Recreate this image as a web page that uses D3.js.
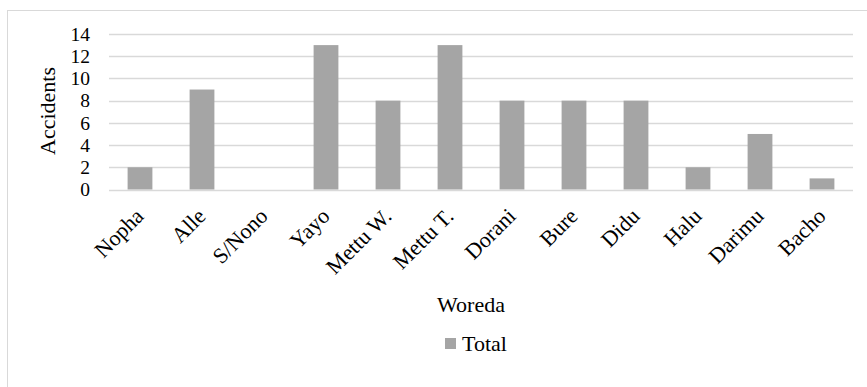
<!DOCTYPE html>
<html>
<head>
<meta charset="utf-8">
<script src="https://cdn.jsdelivr.net/npm/d3@7"></script>
<style>
  html, body { margin: 0; padding: 0; background: #fff; }
  svg { display: block; }
  text { font-family: "Times New Roman", "Liberation Serif", serif; fill: #000; }
</style>
</head>
<body>
<svg id="chart" width="867" height="387"></svg>
<script>
// Accidents per woreda
const woredas = ["Nopha", "Alle", "S/Nono", "Yayo", "Mettu W.", "Mettu T.", "Dorani", "Bure", "Didu", "Halu", "Darimu", "Bacho"];
const totals = [2, 9, 0, 13, 8, 13, 8, 8, 8, 2, 5, 1];
const yTicks = [0, 2, 4, 6, 8, 10, 12, 14];
const seriesName = "Total";

const plot = { left: 109, right: 853, top: 34, bottom: 189.5 };
const barColor = "#a5a5a5";
const gridColor = "#d9d9d9";
const fontSize = 22;
const tickFontSize = 19.5;
const serif = '"Times New Roman", "Liberation Serif", serif';

const svg = d3.select("#chart");

// chart area outline
svg.append("rect")
  .attr("x", 7.5).attr("y", 10.5)
  .attr("width", 900).attr("height", 400)
  .attr("fill", "none").attr("stroke", gridColor).attr("stroke-width", 1);

const x = d3.scaleBand()
  .domain(woredas)
  .range([plot.left, plot.right])
  .paddingInner(0.6)
  .paddingOuter(0.3);

const y = d3.scaleLinear()
  .domain([0, 14])
  .range([plot.bottom, plot.top]);

// horizontal gridlines
svg.append("g")
  .selectAll("line")
  .data(yTicks)
  .join("line")
  .attr("x1", plot.left).attr("x2", plot.right)
  .attr("y1", d => Math.round(y(d)) + 0.5).attr("y2", d => Math.round(y(d)) + 0.5)
  .attr("stroke", gridColor).attr("stroke-width", 1.3);

// y axis labels
const yAxis = d3.axisLeft(y).tickValues(yTicks).tickSize(0).tickPadding(0);
const gy = svg.append("g")
  .attr("transform", `translate(${plot.left - 19},0)`)
  .call(yAxis)
  .attr("font-family", serif)
  .attr("font-size", tickFontSize);
gy.select(".domain").remove();
gy.selectAll("text").attr("fill", "#000");

// bars
svg.append("g")
  .selectAll("rect")
  .data(woredas.map((w, i) => ({ w, v: totals[i] })))
  .join("rect")
  .attr("x", d => x(d.w))
  .attr("y", d => y(d.v))
  .attr("width", x.bandwidth())
  .attr("height", d => y(0) - y(d.v))
  .attr("fill", barColor);

// category labels along the bottom, rotated
const xAxis = d3.axisBottom(x).tickSize(0).tickPadding(0);
const gx = svg.append("g")
  .attr("transform", `translate(0,${plot.bottom})`)
  .call(xAxis)
  .attr("font-family", serif)
  .attr("font-size", fontSize);
gx.select(".domain").remove();
gx.selectAll("text")
  .attr("fill", "#000")
  .attr("text-anchor", "end")
  .attr("dy", null)
  .attr("y", null)
  .attr("transform", "translate(5,28) rotate(-45)");

// axis titles
svg.append("text")
  .attr("transform", `translate(55,111) rotate(-90)`)
  .attr("text-anchor", "middle")
  .attr("font-family", serif)
  .attr("font-size", fontSize)
  .text("Accidents");

svg.append("text")
  .attr("x", 471).attr("y", 311.5)
  .attr("text-anchor", "middle")
  .attr("font-family", serif)
  .attr("font-size", fontSize)
  .text("Woreda");

// legend
const legend = svg.append("g").attr("transform", "translate(445,338)");
legend.append("rect")
  .attr("width", 11).attr("height", 11)
  .attr("fill", barColor);
legend.append("text")
  .attr("x", 17).attr("y", 13)
  .attr("font-family", serif)
  .attr("font-size", fontSize)
  .text(seriesName);
</script>
</body>
</html>
